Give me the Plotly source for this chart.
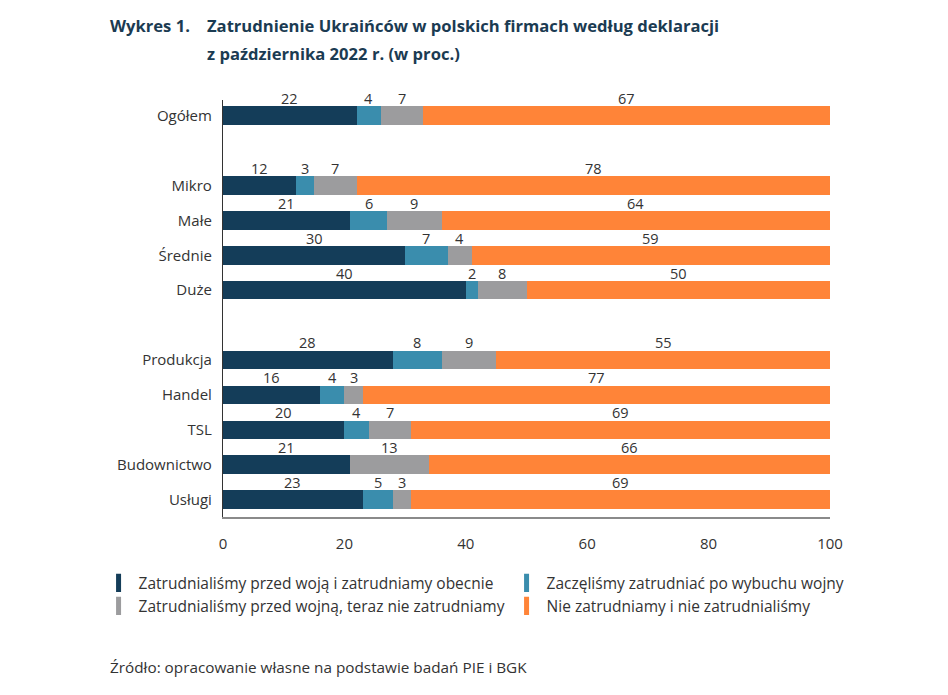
import plotly.graph_objects as go

categories = ['Ogółem', ' ', 'Mikro', 'Małe', 'Średnie', 'Duże', '  ',
              'Produkcja', 'Handel', 'TSL', 'Budownictwo', 'Usługi']
rows = ['Ogółem', 'Mikro', 'Małe', 'Średnie', 'Duże',
        'Produkcja', 'Handel', 'TSL', 'Budownictwo', 'Usługi']

przed_i_obecnie = [22, 12, 21, 30, 40, 28, 16, 20, 21, 23]
po_wybuchu = [4, 3, 6, 7, 2, 8, 4, 4, 0, 5]
przed_teraz_nie = [7, 7, 9, 4, 8, 9, 3, 7, 13, 3]
nigdy = [67, 78, 64, 59, 50, 55, 77, 69, 66, 69]

series_names = ['Zatrudnialiśmy przed woją i zatrudniamy obecnie',
                'Zaczęliśmy zatrudniać po wybuchu wojny',
                'Zatrudnialiśmy przed wojną, teraz nie zatrudniamy',
                'Nie zatrudniamy i nie zatrudnialiśmy']
series = [przed_i_obecnie, po_wybuchu, przed_teraz_nie, nigdy]
colors = ['#143d59', '#3a8dad', '#9c9c9e', '#ff8438']

fig = go.Figure()
for name, vals, col in zip(series_names, series, colors):
    fig.add_bar(y=rows, x=vals, name=name, orientation='h',
                marker=dict(color=col, line=dict(width=0)),
                width=0.53, showlegend=False, hoverinfo='x+y')

# legend entries drawn as thin vertical bars like in the original
for name, col in zip(series_names, colors):
    fig.add_scatter(x=[None], y=[None], mode='markers', name=name,
                    marker=dict(symbol='line-ns', size=13,
                                line=dict(width=5, color=col)))

# value labels above each segment
annotations = []
for i, row in enumerate(rows):
    start = 0
    for vals in series:
        v = vals[i]
        if v > 0:
            annotations.append(dict(x=start + v / 2, y=row, xref='x', yref='y',
                                    text=str(v), showarrow=False, yshift=17,
                                    font=dict(size=14.5, color='#333333')))
        start += v

title_font = dict(family='Open Sans', size=16.6, color='#1b3b52')
annotations.append(dict(xref='paper', yref='paper', x=-0.189, y=1.0,
                        yanchor='middle', xanchor='left', yshift=75,
                        text='<b>Wykres 1.</b>', showarrow=False, font=title_font))
annotations.append(dict(xref='paper', yref='paper', x=-0.03, y=1.0,
                        yanchor='middle', xanchor='left', yshift=75,
                        text='<b>Zatrudnienie Ukraińców w polskich firmach według deklaracji</b>',
                        showarrow=False, font=title_font))
annotations.append(dict(xref='paper', yref='paper', x=-0.03, y=1.0,
                        yanchor='middle', xanchor='left', yshift=47,
                        text='<b>z października 2022 r. (w proc.)</b>',
                        showarrow=False, font=title_font))
annotations.append(dict(xref='paper', yref='paper', x=-0.189, y=0, yanchor='middle',
                        xanchor='left', yshift=-150, showarrow=False,
                        text='Źródło: opracowanie własne na podstawie badań PIE i BGK',
                        font=dict(family='Open Sans', size=15.3, color='#333333')))

fig.update_layout(
    width=948, height=695,
    barmode='stack',
    margin=dict(l=215, r=126, t=92, b=186),
    plot_bgcolor='white', paper_bgcolor='white',
    font=dict(family='Open Sans', size=15, color='#333333'),
    annotations=annotations,
    legend=dict(orientation='h', x=-0.205, xanchor='left', y=-0.118, yanchor='top',
                entrywidth=363, traceorder='normal',
                font=dict(size=15.5, color='#333333')),
)
fig.update_xaxes(range=[0, 100], dtick=20, showgrid=False, zeroline=False,
                 showline=True, linecolor='#8a8a8a', linewidth=1.5,
                 ticks='', ticklabelstandoff=12,
                 tickfont=dict(size=15, color='#333333'))
fig.update_yaxes(type='category', categoryorder='array', categoryarray=categories,
                 range=[11.5, -0.45], showgrid=False, zeroline=False,
                 showline=True, linecolor='#333333', linewidth=1.2,
                 ticks='', ticklabelstandoff=7,
                 tickfont=dict(size=15, color='#333333'))

fig.write_html('out.html')
